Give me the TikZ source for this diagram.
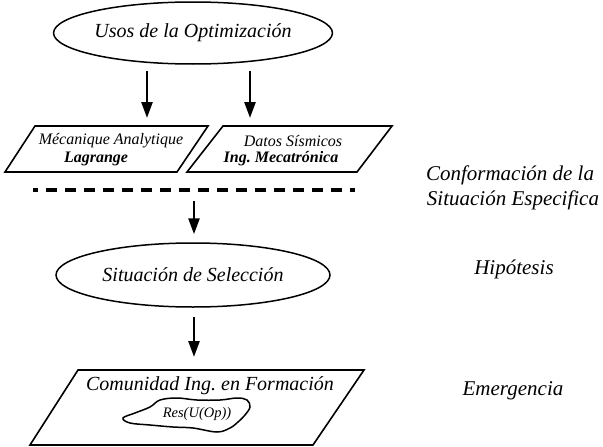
\documentclass[tikz,border=0pt]{standalone}
\usepackage{fontspec}
\setmainfont{Liberation Serif}
\usetikzlibrary{arrows.meta,shapes.geometric}
\frenchspacing
\begin{document}
\begin{tikzpicture}[x=1pt,y=-1pt,
  ell/.style={draw,ellipse,line width=1.5pt,minimum width=274pt,minimum height=62pt,inner sep=0pt,font=\itshape\fontsize{20}{22}\selectfont},
  par/.style={draw,line width=1.6pt,line join=miter},
  ptext/.style={inner sep=0pt,font=\itshape\fontsize{16}{18}\selectfont},
  big/.style={inner sep=0pt,font=\itshape\fontsize{20}{22}\selectfont},
  lab/.style={inner sep=0pt,font=\itshape\fontsize{21}{23}\selectfont},
  arr/.style={line width=2.6pt,-{Triangle[length=16pt,width=11pt]}}]
\useasboundingbox (0,0) rectangle (603,447);
% top ellipse
\node[ell] (usos) at (193,33) {Usos de la Optimización};
% parallelograms
\draw[par] (35,126) -- (208,126) -- (177,172) -- (5,172) -- cycle;
\draw[par] (223,126) -- (392,126) -- (357,172) -- (187,172) -- cycle;
\coordinate (lpt) at (147,126);
\coordinate (rpt) at (250,126);
\node[ptext] (mec1) at (111,141) {Mécanique Analytique};
\node[ptext] (mec2) at (96,159) {\bfseries Lagrange};
\node[ptext] (dat1) at (293,141) {Datos Sísmicos};
\node[ptext] (dat2) at (281,159) {\bfseries Ing. Mecatrónica};
\draw[arr,shorten <=6pt,shorten >=8pt] (usos.south -| lpt) -- (lpt);
\draw[arr,shorten <=6pt,shorten >=8pt] (usos.south -| rpt) -- (rpt);
% dashed line
\coordinate (dashL) at (33,190);
\coordinate (dashR) at (355,190);
\draw[line width=4pt,dash pattern=on 11pt off 8pt,dash phase=6pt] (dashL) -- (dashR);
% middle ellipse
\node[ell,minimum height=64pt] (sit) at (193,275) {Situación de Selección};
\coordinate (dtop) at (194,190);
\draw[arr,shorten <=11pt,shorten >=8pt] (dtop) -- (sit.north -| dtop);
% bottom parallelogram
\draw[par] (78,370) -- (364,370) -- (313,445) -- (30,445) -- cycle;
\coordinate (btop) at (194,370);
\node[big] (com) at (210,386) {Comunidad Ing. en Formación};
\draw[arr,shorten <=9pt,shorten >=13pt] (sit.south -| btop) -- (btop);
% cloud
\draw[line width=1.5pt] plot[smooth cycle,tension=0.6] coordinates {
 (123,418) (135,413) (150,407) (160,400) (177,398) (197,400) (220,400)
 (237,398) (247,400) (250,407) (245,415) (238,422) (230,428) (217,432)
 (193,428) (173,427) (150,425) (130,423)};
\node[inner sep=0pt,font=\itshape\fontsize{14.5}{16}\selectfont] (res) at (197,414) {Res(U(Op))};
% right labels
\node[lab] (conf1) at (510,175) {Conformación de la};
\node[lab] (conf2) at (513,200) {Situación Especifica};
\node[lab] (hip) at (514,269) {Hipótesis};
\node[lab] (eme) at (513,391) {Emergencia};
\end{tikzpicture}
\end{document}
